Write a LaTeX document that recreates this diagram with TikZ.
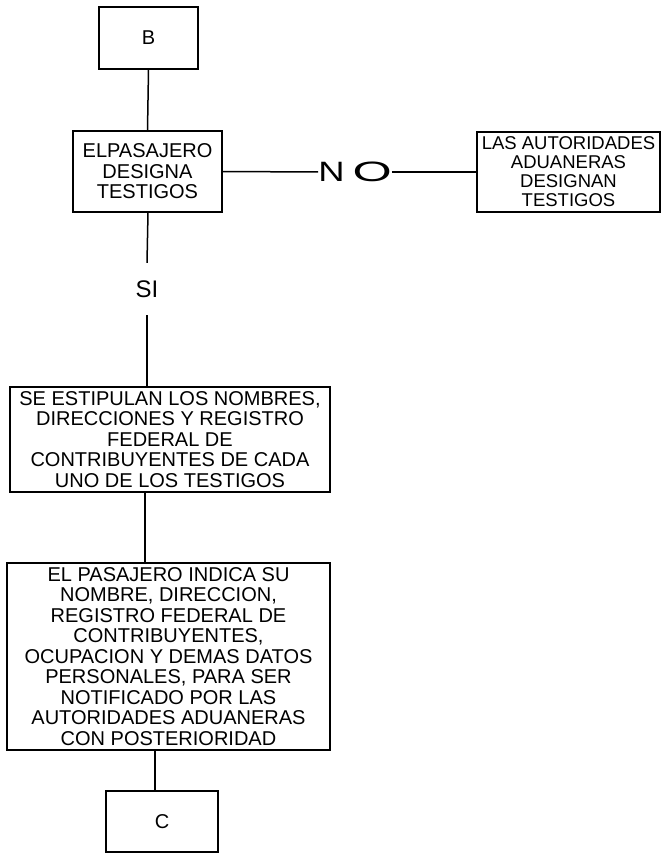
\documentclass[tikz,border=0pt]{standalone}
\usepackage{fontspec}
\setmainfont{Liberation Sans}
\begin{document}
\begin{tikzpicture}[x=1pt,y=-1pt,
  box/.style={draw, line width=1.5pt, inner sep=0pt, align=center,
    font=\fontsize{20}{20.5}\selectfont},
  conn/.style={line width=1.5pt},
  lbl/.style={inner sep=0pt}]
\useasboundingbox (0,0) rectangle (666,853);
\node[box, minimum width=99pt, minimum height=62pt] (B) at (148.5,38) {B};
\node[box, minimum width=149pt, minimum height=81pt] (des) at (147.5,171.5)
  {ELPASAJERO\\DESIGNA\\TESTIGOS};
\node[box, minimum width=183pt, minimum height=80pt,
  font=\fontsize{18.5}{19}\selectfont] (aut) at (568.5,172)
  {LAS AUTORIDADES\\ADUANERAS\\DESIGNAN\\TESTIGOS};
\node[lbl, font=\fontsize{28}{28}\selectfont] (no) at (355,172)
  {\scalebox{1.3}[1]{N}\hspace{8pt}\scalebox{1.8}[1]{O}};
\node[lbl, minimum height=52pt, font=\fontsize{24}{24}\selectfont] (si) at (147,289) {SI};
\node[box, minimum width=320pt, minimum height=105pt] (est) at (170,439.5)
  {SE ESTIPULAN LOS NOMBRES,\\DIRECCIONES Y REGISTRO\\FEDERAL DE\\CONTRIBUYENTES DE CADA\\UNO DE LOS TESTIGOS};
\node[box, minimum width=323pt, minimum height=187pt] (pas) at (168.5,656.5)
  {EL PASAJERO INDICA SU\\NOMBRE, DIRECCION,\\REGISTRO FEDERAL DE\\CONTRIBUYENTES,\\OCUPACION Y DEMAS DATOS\\PERSONALES, PARA SER\\NOTIFICADO POR LAS\\AUTORIDADES ADUANERAS\\CON POSTERIORIDAD};
\node[box, minimum width=112pt, minimum height=61pt] (C) at (162,821.5) {C};
\draw[conn] (B.south) -- (des.north);
\draw[conn] (des.east) -- (no.west);
\draw[conn] (no.east) -- (aut.west);
\draw[conn] ([xshift=0.5pt]des.south) -- (si.north);
\draw[conn] (si.south) -- ([xshift=-23pt]est.north);
\draw[conn] ([xshift=-25pt]est.south) -- ([xshift=-23.5pt]pas.north);
\draw[conn] ([xshift=-13.5pt]pas.south) -- ([xshift=-7pt]C.north);
\end{tikzpicture}
\end{document}
